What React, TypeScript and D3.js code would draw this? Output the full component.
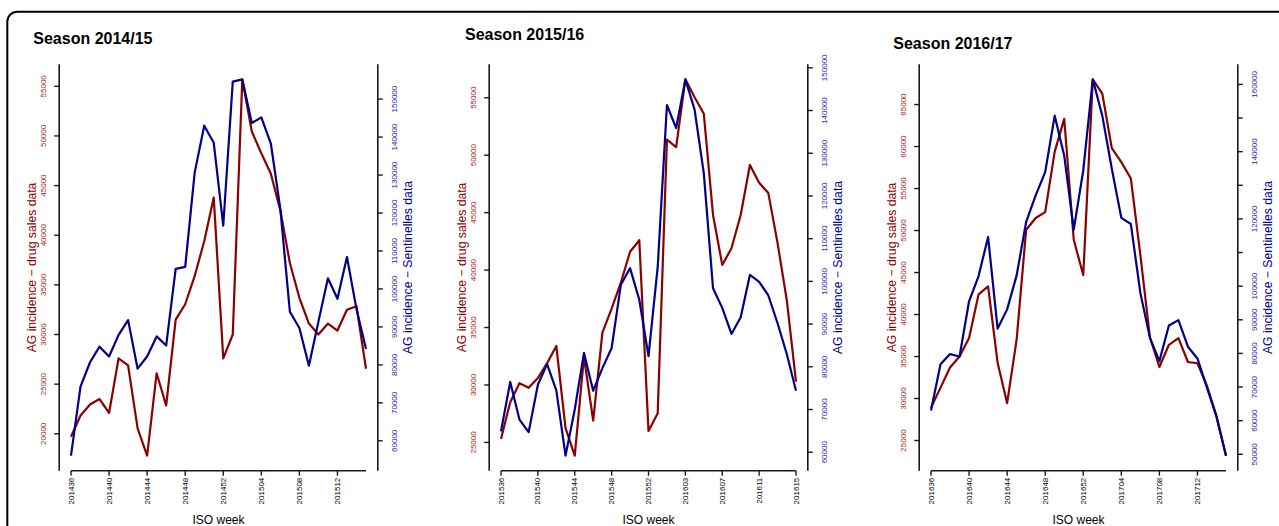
import React from "react";
import * as d3 from "d3";

// ---------- DATA ----------
const seasonTitles = ["Season 2014/15", "Season 2015/16", "Season 2016/17"];

const weeks1 = [
  "201436", "201437", "201438", "201439", "201440", "201441", "201442", "201443",
  "201444", "201445", "201446", "201447", "201448", "201449", "201450", "201451",
  "201452", "201501", "201502", "201503", "201504", "201505", "201506", "201507",
  "201508", "201509", "201510", "201511", "201512", "201513", "201514", "201515",
];
const drugSales1 = [
  19700, 21850, 22950, 23500, 22100, 27600, 26900, 20550,
  17800, 26100, 22850, 31500, 33050, 35900, 39400, 43800,
  27600, 30000, 55700, 50450, 48250, 46200, 42500, 37200,
  33700, 31100, 30000, 31100, 30400, 32500, 32850, 26550,
];
const sentinelles1 = [
  56100, 74300, 80700, 84800, 82200, 87900, 91800, 79000,
  82200, 87500, 85100, 105300, 105800, 130700, 143000, 138500,
  116700, 154600, 155200, 143700, 145200, 138300, 121000, 94000,
  89700, 79800, 91400, 102800, 97400, 108400, 94700, 84200,
];

const weeks2 = [
  "201536", "201537", "201538", "201539", "201540", "201541", "201542", "201543",
  "201544", "201545", "201546", "201547", "201548", "201549", "201550", "201551",
  "201552", "201553", "201601", "201602", "201603", "201604", "201605", "201606",
  "201607", "201608", "201609", "201610", "201611", "201612", "201613", "201614",
  "201615",
];
const drugSales2 = [
  25300, 28500, 30150, 29750, 30600, 31900, 33400, 26250,
  23850, 32450, 26900, 34550, 36650, 38900, 41600, 42600,
  26000, 27550, 51350, 50700, 56600, 55050, 53600, 44800,
  40450, 41900, 44800, 49150, 47600, 46700, 42350, 37400,
  30300,
];
const sentinelles2 = [
  64900, 76450, 67650, 64700, 75800, 80650, 74500, 59200,
  70000, 83250, 74400, 79700, 84400, 99200, 103100, 95700,
  82500, 103400, 141300, 135900, 147300, 140200, 125300, 98400,
  93800, 87700, 91600, 101500, 99900, 96700, 90200, 83000,
  74400,
];

const weeks3 = [
  "201636", "201637", "201638", "201639", "201640", "201641", "201642", "201643",
  "201644", "201645", "201646", "201647", "201648", "201649", "201650", "201651",
  "201652", "201701", "201702", "201703", "201704", "201705", "201706", "201707",
  "201708", "201709", "201710", "201711", "201712", "201713", "201714", "201715",
];
const drugSales3 = [
  28900, 31300, 33700, 35000, 37200, 42400, 43350, 34250,
  29450, 37050, 50100, 51500, 52200, 59400, 63300, 48900,
  44700, 68000, 66300, 59800, 58150, 56200, 47100, 37300,
  33750, 36400, 37200, 34350, 34200, 31500, 27900, 23200,
];
const sentinelles3 = [
  63000, 76800, 79800, 79100, 95500, 103000, 114600, 87400,
  93100, 103200, 119100, 127000, 133900, 150700, 138800, 116800,
  134400, 161500, 150700, 134900, 120300, 118500, 98000, 84700,
  77700, 88300, 89900, 82000, 78500, 69800, 61200, 49600,
];

const leftTicks1 = [20000, 25000, 30000, 35000, 40000, 45000, 50000, 55000];
const rightTicks1 = [60000, 70000, 80000, 90000, 100000, 110000, 120000, 130000, 140000, 150000];
const leftTicks2 = [25000, 30000, 35000, 40000, 45000, 50000, 55000];
const rightTicks2 = [60000, 70000, 80000, 90000, 100000, 110000, 120000, 130000, 140000, 150000];
const leftTicks3 = [25000, 30000, 35000, 40000, 45000, 50000, 55000, 60000, 65000];
const rightTicks3 = [50000, 60000, 70000, 80000, 90000, 100000, 110000, 120000, 130000, 140000, 150000, 160000];
const rightUnlabeled3 = [110000, 130000, 150000];

const leftTitle = "AG incidence \u2212 drug sales data";
const rightTitle = "AG incidence \u2212 Sentinelles data";
const xTitle = "ISO week";

// ---------- STYLE / LAYOUT ----------
const W = 1279;
const H = 526;
const RED = "#8B0000";
const BLUE = "#00008B";
const RED_LAB = "#a31c1c";
const BLUE_LAB = "#2424b4";
const FONT = "'Liberation Sans', Arial, Helvetica, sans-serif";

const PLOT_L = 59.2;
const PLOT_R = 377.8;
const PLOT_T = 64.3;
const PLOT_B = 470.7;

type Panel = {
  title: string;
  titleX: number;
  titleY: number;
  weeks: string[];
  red: number[];
  blue: number[];
  lt: number[];
  rt: number[];
  rHidden: number[];
  offset: number;
};

const panels: Panel[] = [
  { title: seasonTitles[0], titleX: 33.3, titleY: 44.3, weeks: weeks1, red: drugSales1, blue: sentinelles1, lt: leftTicks1, rt: rightTicks1, rHidden: [], offset: 0 },
  { title: seasonTitles[1], titleX: 35, titleY: 40.3, weeks: weeks2, red: drugSales2, blue: sentinelles2, lt: leftTicks2, rt: rightTicks2, rHidden: [], offset: 430 },
  { title: seasonTitles[2], titleX: 33.3, titleY: 49, weeks: weeks3, red: drugSales3, blue: sentinelles3, lt: leftTicks3, rt: rightTicks3, rHidden: rightUnlabeled3, offset: 860 },
];

function padded(vals: number[]): [number, number] {
  const [a, b] = d3.extent(vals) as [number, number];
  const p = (b - a) * 0.04;
  return [a - p, b + p];
}

function PanelView({ p }: { p: Panel }) {
  const n = p.weeks.length;
  const x = d3
    .scaleLinear()
    .domain([0 - (n - 1) * 0.04, n - 1 + (n - 1) * 0.04])
    .range([PLOT_L, PLOT_R]);
  const yL = d3.scaleLinear().domain(padded(p.red)).range([PLOT_B, PLOT_T]);
  const yR = d3.scaleLinear().domain(padded(p.blue)).range([PLOT_B, PLOT_T]);
  const lineRed = d3
    .line<number>()
    .x((_, i) => x(i))
    .y((d) => yL(d));
  const lineBlue = d3
    .line<number>()
    .x((_, i) => x(i))
    .y((d) => yR(d));
  const xTickIdx = p.weeks.map((_, i) => i).filter((i) => i % 4 === 0);
  const axisColor = "#1a1a1a";
  const cx = (PLOT_L + PLOT_R) / 2;
  const cy = (PLOT_T + PLOT_B) / 2;

  return (
    <g transform={`translate(${p.offset},0)`}>
      <text x={p.titleX} y={p.titleY} fontFamily={FONT} fontWeight="bold" fontSize={16} fill="#000">
        {p.title}
      </text>

      {/* data lines */}
      <path d={lineRed(p.red) || ""} fill="none" stroke={RED} strokeWidth={2.2} strokeLinejoin="round" />
      <path d={lineBlue(p.blue) || ""} fill="none" stroke={BLUE} strokeWidth={2.2} strokeLinejoin="round" />

      {/* left axis */}
      <line x1={PLOT_L} x2={PLOT_L} y1={PLOT_T} y2={PLOT_B} stroke={axisColor} strokeWidth={1.6} />
      {p.lt.map((t) => (
        <g key={"l" + t}>
          <line x1={PLOT_L - 5} x2={PLOT_L} y1={yL(t)} y2={yL(t)} stroke={axisColor} strokeWidth={1.4} />
          <text
            transform={`translate(${PLOT_L - 15.7},${yL(t)}) rotate(-90)`}
            textAnchor="middle"
            dominantBaseline="central"
            fontFamily={FONT}
            fontSize={8}
            fill={RED_LAB}
          >
            {t}
          </text>
        </g>
      ))}

      {/* right axis */}
      <line x1={PLOT_R} x2={PLOT_R} y1={PLOT_T} y2={PLOT_B} stroke={axisColor} strokeWidth={1.6} />
      {p.rt.map((t) => (
        <g key={"r" + t}>
          <line x1={PLOT_R} x2={PLOT_R + 5} y1={yR(t)} y2={yR(t)} stroke={axisColor} strokeWidth={1.4} />
          {p.rHidden.indexOf(t) < 0 && (
            <text
              transform={`translate(${PLOT_R + 16.5},${yR(t)}) rotate(-90)`}
              textAnchor="middle"
              dominantBaseline="central"
              fontFamily={FONT}
              fontSize={8}
              fill={BLUE_LAB}
            >
              {t}
            </text>
          )}
        </g>
      ))}

      {/* x axis */}
      <line x1={x(0)} x2={x(n - 1)} y1={PLOT_B} y2={PLOT_B} stroke={axisColor} strokeWidth={1.6} />
      {xTickIdx.map((i) => (
        <g key={"x" + i}>
          <line x1={x(i)} x2={x(i)} y1={PLOT_B} y2={PLOT_B + 5} stroke={axisColor} strokeWidth={1.4} />
          <text
            transform={`translate(${x(i)},${PLOT_B + 7}) rotate(-90)`}
            textAnchor="end"
            dominantBaseline="central"
            fontFamily={FONT}
            fontSize={8}
            fill="#000"
          >
            {p.weeks[i]}
          </text>
        </g>
      ))}

      {/* axis titles */}
      <text
        transform={`translate(32,${cy}) rotate(-90)`}
        textAnchor="middle"
        dominantBaseline="central"
        fontFamily={FONT}
        fontSize={12.2}
        fill={RED}
      >
        {leftTitle}
      </text>
      <text
        transform={`translate(${PLOT_R + 30.5},${cy}) rotate(-90)`}
        textAnchor="middle"
        dominantBaseline="central"
        fontFamily={FONT}
        fontSize={12.2}
        fill={BLUE}
      >
        {rightTitle}
      </text>
      <text x={cx} y={523.5} textAnchor="middle" fontFamily={FONT} fontSize={12} fill="#000">
        {xTitle}
      </text>
    </g>
  );
}

export default function App() {
  return (
    <svg
      width={W}
      height={H}
      viewBox={`0 0 ${W} ${H}`}
      style={{ position: "absolute", left: 0, top: 0, background: "#fff" }}
    >
      <rect x={0} y={0} width={W} height={H} fill="#fff" />
      <rect x={7.3} y={11.7} width={1320} height={620} rx={10} ry={10} fill="none" stroke="#000" strokeWidth={2} />
      {panels.map((p, i) => (
        <PanelView key={i} p={p} />
      ))}
    </svg>
  );
}
